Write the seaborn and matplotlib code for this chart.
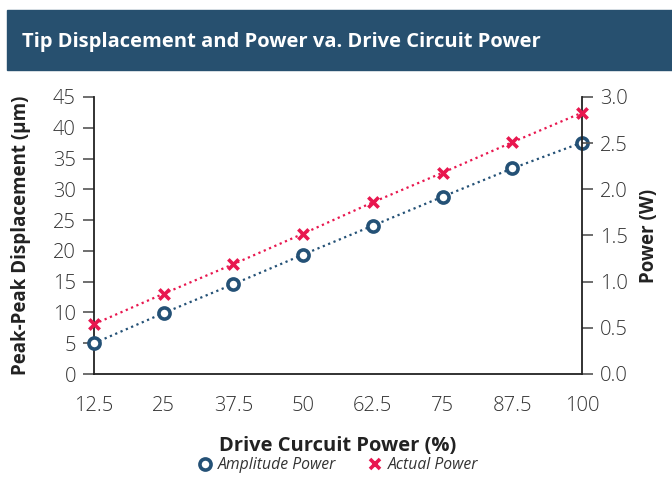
import matplotlib
matplotlib.use("Agg")
import matplotlib.pyplot as plt
from matplotlib.patches import Rectangle
from matplotlib.lines import Line2D
import seaborn as sns
import pandas as pd

drive_power = [12.5, 25, 37.5, 50, 62.5, 75, 87.5, 100]
amplitude_um = [5.0, 9.9, 14.6, 19.4, 24.1, 28.8, 33.4, 37.6]
actual_power_w = [0.54, 0.87, 1.19, 1.52, 1.86, 2.18, 2.51, 2.83]
x_ticklabels = ["12.5", "25", "37.5", "50", "62.5", "75", "87.5", "100"]

title = "Tip Displacement and Power va. Drive Circuit Power"
xlabel = "Drive Curcuit Power (%)"
ylabel_left = "Peak-Peak Displacement (µm)"
ylabel_right = "Power (W)"
series_names = ["Amplitude Power", "Actual Power"]

BLUE = "#245176"
RED = "#E8174F"
BAR = "#27506F"
TXT = "#333333"

sns.set_style("white")
plt.rcParams["font.family"] = ["Open Sans", "DejaVu Sans"]

df = pd.DataFrame({"drive": drive_power, "amp": amplitude_um, "pw": actual_power_w})

fig = plt.figure(figsize=(6.72, 4.87), dpi=100)
fig.patches.append(Rectangle((7 / 672, 1 - 70 / 487), 665 / 672, 60 / 487,
                             transform=fig.transFigure, color=BAR, zorder=0))
fig.text(22 / 672, 1 - 42 / 487, title, color="white", fontsize=14.5,
         fontweight="bold", va="center", ha="left")

ax = fig.add_axes([94 / 672, 1 - 374 / 487, 488 / 672, 277 / 487])
ax2 = ax.twinx()

sns.lineplot(data=df, x="drive", y="amp", ax=ax, color=BLUE, linestyle=(0, (1, 1.6)),
             linewidth=1.6, marker="o", markersize=8, markerfacecolor="white",
             markeredgecolor=BLUE, markeredgewidth=2.6, clip_on=False, zorder=3)
sns.lineplot(data=df, x="drive", y="pw", ax=ax2, color=RED, linestyle=(0, (1, 1.6)),
             linewidth=1.6, clip_on=False, zorder=3)
sns.scatterplot(data=df, x="drive", y="pw", ax=ax2, color=RED, marker="x", s=55,
                linewidth=2.6, clip_on=False, zorder=4)

ax.set_xlim(12.5, 100)
ax.set_ylim(0, 45)
ax2.set_ylim(0, 3.0)
ax.set_xticks(drive_power)
ax.set_xticklabels(x_ticklabels)
ax.set_yticks(range(0, 46, 5))
ax2.set_yticks([0, 0.5, 1.0, 1.5, 2.0, 2.5, 3.0])
ax2.set_yticklabels(["0.0", "0.5", "1.0", "1.5", "2.0", "2.5", "3.0"])

for a in (ax, ax2):
    a.tick_params(axis="both", direction="out", length=8, width=1.2, color="#555555",
                  labelsize=14.5, labelcolor=TXT, pad=5)
    for lab in a.get_xticklabels() + a.get_yticklabels():
        lab.set_fontweight("light")
    a.spines["top"].set_visible(False)
    for s in ("left", "right", "bottom"):
        a.spines[s].set_color("#222222")
        a.spines[s].set_linewidth(1.3)
ax.tick_params(axis="x", pad=8)
ax.spines["right"].set_visible(False)
ax2.spines["left"].set_visible(False)
ax2.spines["bottom"].set_visible(False)

ax.set_xlabel(xlabel, fontsize=14.5, fontweight="bold", color="#222222", labelpad=14)
ax.set_ylabel(ylabel_left, fontsize=13.5, fontweight="bold", color="#222222", labelpad=16)
ax2.set_ylabel(ylabel_right, fontsize=13.5, fontweight="bold", color="#222222", labelpad=8)
ax.grid(False)
ax2.grid(False)

handles = [
    Line2D([], [], linestyle="none", marker="o", markersize=8, markerfacecolor="white",
           markeredgecolor=BLUE, markeredgewidth=2.6),
    Line2D([], [], linestyle="none", marker="x", markersize=7.5, color=RED,
           markeredgewidth=2.6),
]
fig.legend(handles, series_names, loc="center", bbox_to_anchor=(338 / 672, 1 - 465 / 487),
           ncol=2, frameon=False, prop={"style": "italic", "size": 11.3},
           labelcolor=TXT, handletextpad=0.3, columnspacing=2.0, handlelength=1.0)

fig.savefig("out.png", dpi=100)
